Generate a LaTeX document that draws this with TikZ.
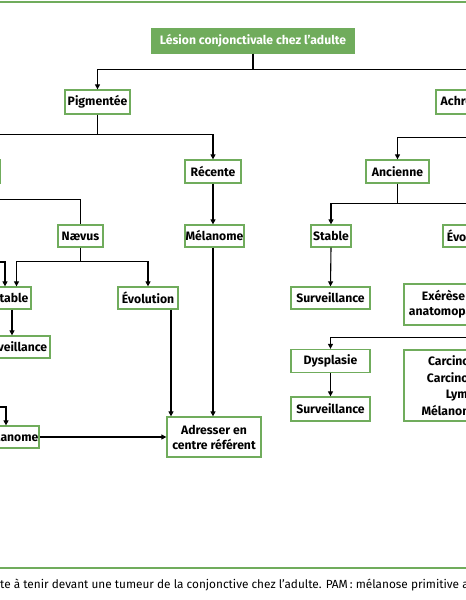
\documentclass[tikz,border=0pt]{standalone}
\usepackage{fontspec}
\setmainfont{Fira Sans}
\usetikzlibrary{arrows.meta}
\definecolor{grn}{RGB}{112,172,92}
\begin{document}
\begin{tikzpicture}[x=1pt,y=-1pt,
  box/.style={draw=grn,line width=1.3pt,fill=white,font=\fontsize{12.2}{15}\selectfont\bfseries,inner sep=0pt,minimum height=23,align=center},
  ln/.style={line width=1.1pt,black},
  arr/.style={ln,-{Triangle[length=5pt,width=5pt]}},
  rule/.style={draw=grn,line width=2pt}
]
\useasboundingbox (0,0) rectangle (466,600);
\clip (0,0) rectangle (466,600);
\fill[white] (0,0) rectangle (466,600);
% frame rules
\coordinate (r1a) at (0,1.5); \coordinate (r1b) at (466,1.5);
\coordinate (r2a) at (0,568); \coordinate (r2b) at (466,568);
\draw[rule] (r1a) -- (r1b);
\draw[rule] (r2a) -- (r2b);

% nodes
\node[box,fill=grn,draw=grn,text=white,minimum width=202,minimum height=24] (title) at (253,41) {Lésion conjonctivale chez l’adulte};
\node[box,minimum width=65,minimum height=24] (pig) at (97.5,102) {Pigmentée};
\node[box,minimum width=76,minimum height=24] (achr) at (474,102) {Achromique};
\node[box,minimum width=63] (lanc) at (-31,171.5) {Ancienne};
\node[box,minimum width=56] (rec) at (213,171.5) {Récente};
\node[box,minimum width=63] (anc) at (397.5,171.5) {Ancienne};
\node[box,minimum width=45,minimum height=22] (nae) at (80.5,236) {Nævus};
\node[box,minimum width=59,minimum height=22] (mel) at (214.5,236) {Mélanome};
\node[box,minimum width=40,minimum height=22] (rst) at (331,236) {Stable};
\node[box,minimum width=60,minimum height=22] (revo) at (473,236) {Évolution};
\node[box,minimum width=41,minimum height=22] (lst) at (10.5,298) {Stable};
\node[box,minimum width=60,minimum height=22] (levo) at (148,298) {Évolution};
\node[box,minimum width=79,minimum height=22] (rsurv) at (330.5,298) {Surveillance};
\node[box,minimum width=134,minimum height=41] (exe) at (471,304.5) {Exérèse + analyse\\anatomopathologique};
\node[box,minimum width=74,minimum height=22] (lsurv) at (13,347) {Surveillance};
\node[box,minimum width=79] (dys) at (330.5,361) {Dysplasie};
\node[box,minimum width=144,minimum height=71,font=\fontsize{12.2}{16.7}\selectfont\bfseries] (car) at (476,385.5) {Carcinome in situ\\Carcinome invasif\\Lymphome\\Mélanome achrome};
\node[box,minimum width=79,minimum height=24] (rsurv2) at (330.5,409) {Surveillance};
\node[box,minimum width=59,minimum height=22] (lmel) at (9.5,437) {Mélanome};
\node[box,minimum width=94,minimum height=40] (adr) at (214,437) {Adresser en\\centre référent};

% off-frame sources
\coordinate (srcA) at (-40,262);
\coordinate (srcB) at (-40,407);

% connectors
\draw[arr] (title.south) -- ++(0,16) -| (pig.north);
\draw[arr] (title.south) -- ++(0,16) -| (achr.north);
\draw[arr] (pig.south) -- ++(0,20) -| (lanc.north);
\draw[arr] (pig.south) -- ++(0,20) -| (rec.north);
\draw[ln] (lanc.south) -- ++(0,16) -| (nae.north);
\draw[arr] (nae.south) -- ++(0,14) -| ([xshift=6]lst.north);
\draw[arr] (nae.south) -- ++(0,14) -| (levo.north);
\draw[arr] (srcA) -| ([xshift=-5.5]lst.north);
\draw[arr] ([xshift=1.5]lst.south) -- ([xshift=1.5]lst.south |- lsurv.north);
\draw[arr] (srcB) -| ([xshift=-3.5]lmel.north);
\draw[arr] (lmel.east) -- (adr.west);
\draw[arr] ([xshift=23]levo.south) -- ([xshift=23]levo.south |- adr.north);
\draw[arr] (rec.south) -- (rec.south |- mel.north);
\draw[arr] ([xshift=-1.5]mel.south) -- ([xshift=-1.5]mel.south |- adr.north);

\draw[arr] (achr.south) -- ++(0,23) -| (anc.north);
\draw[arr] (anc.south) -- ++(0,20) -| (rst.north);
\draw[arr] (anc.south) -- ++(0,20) -| (revo.north);
\draw[arr] (rst.south) -- (rsurv.north);
\draw[arr] (exe.south) -- ++(0,12) -| (dys.north);
\draw[arr] (dys.south) -- (rsurv2.north);

% caption
\node[anchor=west,inner sep=0pt,font=\fontsize{11.8}{12}\selectfont] (cap) at (0,585) {te à tenir devant une tumeur de la conjonctive chez l’adulte. PAM\,: mélanose primitive acquise};
\end{tikzpicture}
\end{document}
